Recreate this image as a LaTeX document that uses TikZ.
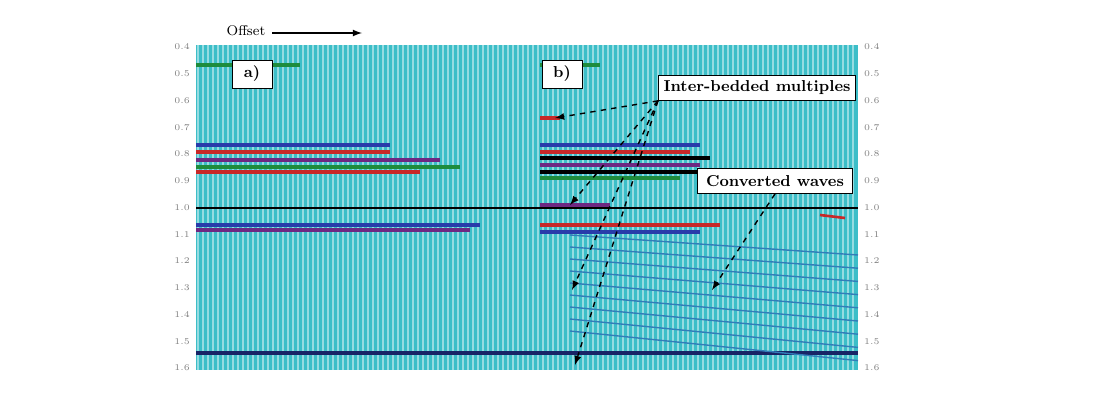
\documentclass[tikz,border=0pt]{standalone}
\usetikzlibrary{positioning}
\definecolor{seis}{RGB}{60,190,200}
\definecolor{stripe}{RGB}{150,220,225}
\definecolor{ev1}{RGB}{40,60,170}
\definecolor{ev2}{RGB}{200,40,40}
\definecolor{ev3}{RGB}{30,140,60}
\definecolor{ev4}{RGB}{110,40,130}
\begin{document}
\begin{tikzpicture}[x=0.02cm,y=-0.02cm]
\tikzstyle{tag} = [draw,fill=white,inner sep=3pt,font=\bfseries\small];
\tikzstyle{tick} = [font=\tiny,text=gray];
\tikzstyle{ptr}=[-latex,thick,dashed];
\useasboundingbox (0,0) rectangle (1100,400);
% section background
\fill[seis] (196,45) rectangle (858,370);
\foreach \x in {198,203,...,856} \draw[stripe,line width=1.2pt] (\x,45) -- (\x,370);
% events, panel a
\foreach \y/\e/\c in {65/300/ev3,145/390/ev1,152/390/ev2,160/440/ev4,167/460/ev3,172/420/ev2,225/480/ev1,230/470/ev4}
  \draw[\c,line width=2pt] (196,\y) -- (\e,\y);
\draw[black,line width=1pt] (196,208) -- (858,208);
\draw[ev1!60!black,line width=2pt] (196,353) -- (858,353);
% events, panel b
\foreach \y/\e/\c in {65/600/ev3,118/560/ev2,145/700/ev1,152/690/ev2,158/710/black,165/700/ev4,172/720/black,178/680/ev3,205/610/ev4,225/720/ev2,232/700/ev1}
  \draw[\c,line width=2pt] (540,\y) -- (\e,\y);
\foreach \s in {0,12,...,96}
  \draw[ev1!50!seis,line width=0.8pt] (570,235+\s) -- (858,255+\s*1.1);
\draw[ev2,line width=1.5pt] (820,215) -- (845,218);
% time axis
\foreach \t [count=\i from 0] in {0.4,0.5,0.6,0.7,0.8,0.9,1.0,1.1,1.2,1.3,1.4,1.5,1.6} {
  \node[tick,left] (l\i) at (196,47+26.75*\i) {\t};
  \node[tick,right] (r\i) at (858,47+26.75*\i) {\t};
}
% offset label
\node (off) at (246,31) {\footnotesize Offset};
\coordinate (offstart) at (272,33);
\coordinate (offend) at (362,33);
\draw[-latex,thick] (offstart) -- (offend);
% panel tags
\node[tag,minimum width=0.8cm,minimum height=0.56cm] (pa) at (252,74) {a)};
\node[tag,minimum width=0.8cm,minimum height=0.56cm] (pb) at (562,74) {b)};
\node[tag,minimum width=3.6cm,minimum height=0.5cm] (ibm) at (757,88) {Inter-bedded multiples};
\node[tag,minimum width=3.1cm,minimum height=0.5cm] (cw) at (775,181) {Converted waves};
\coordinate (m1) at (555,118);
\coordinate (m2) at (570,205);
\coordinate (m3) at (572,290);
\coordinate (m4) at (575,365);
\coordinate (c1) at (712,290);
\foreach \m in {m1,m2,m3,m4} \draw[ptr] (ibm.south west) -- (\m);
\draw[ptr] (cw.south) -- (c1);
\end{tikzpicture}
\end{document}
